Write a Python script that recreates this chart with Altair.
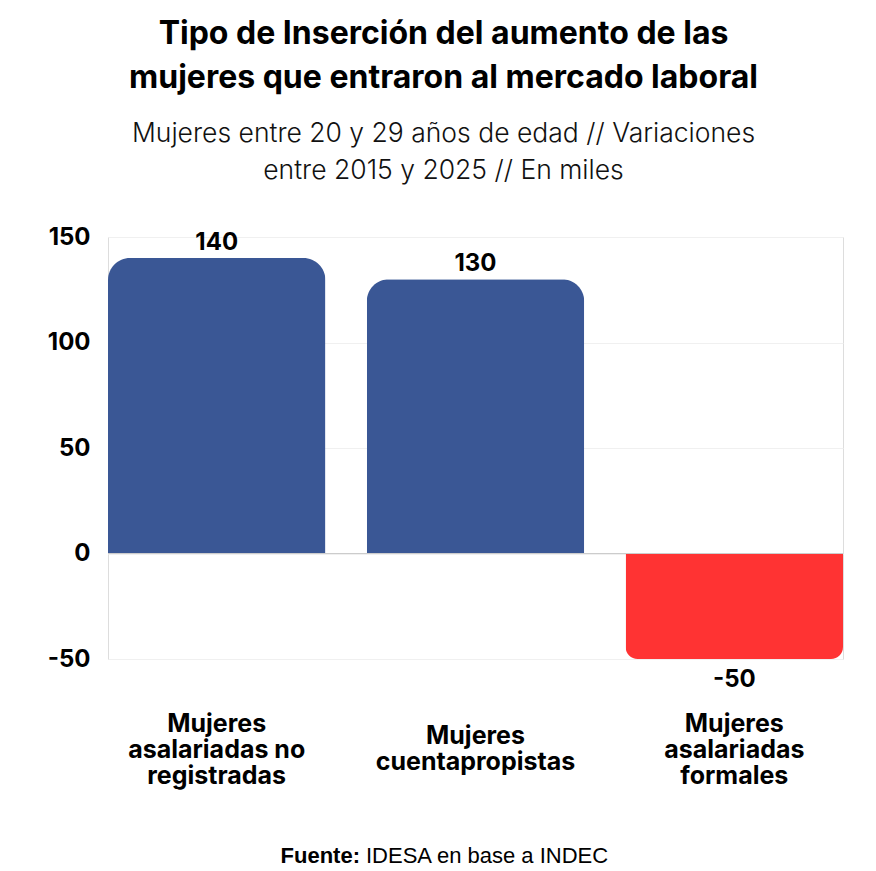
import altair as alt
import pandas as pd

# Categories (multi-line labels split on "|") and their change, in thousands
categorias = [
    "Mujeres|asalariadas no|registradas",
    "Mujeres|cuentapropistas",
    "Mujeres|asalariadas|formales",
]
variacion = [140, 130, -50]

y_ticks = [-50, 0, 50, 100, 150]

titulo = ["Tipo de Inserción del aumento de las", "mujeres que entraron al mercado laboral"]
subtitulo = ["Mujeres entre 20 y 29 años de edad // Variaciones", "entre 2015 y 2025 // En miles"]
fuente_negrita = "Fuente:"
fuente_texto = "IDESA en base a INDEC"

AZUL = "#3a5795"
ROJO = "#ff3333"
FONT = "Inter"

df = pd.DataFrame({"cat": categorias, "val": variacion})

x_enc = alt.X(
    "cat:N",
    sort=None,
    title=None,
    scale=alt.Scale(paddingInner=0.16, paddingOuter=0),
    axis=alt.Axis(
        labelExpr="split(datum.label, '|')",
        labelAngle=0,
        labelFont=FONT,
        labelFontSize=25,
        labelFontWeight="bold",
        labelColor="#000",
        labelLineHeight=26,
        # two-line labels sit half a line lower so every block is centred
        labelBaseline={
            "condition": {"test": "length(split(datum.label, '|')) == 2", "value": "top"},
            "value": "middle",
        },
        labelPadding=64,
        labelLimit=400,
        ticks=False,
        domain=False,
        grid=False,
    ),
)
y_enc = alt.Y(
    "val:Q",
    title=None,
    scale=alt.Scale(domain=[-50, 150], nice=False),
    axis=alt.Axis(
        values=y_ticks,
        labelExpr="'' + datum.value",
        labelFont=FONT,
        labelFontSize=24,
        labelFontWeight="bold",
        labelColor="#000",
        labelPadding=18,
        ticks=False,
        domain=False,
        gridColor="#f0f0f0",
        gridWidth=1,
    ),
)

base = alt.Chart(df).transform_calculate(txt="'' + datum.val")

bar_pos = base.transform_filter("datum.val >= 0").mark_bar(
    color=AZUL, cornerRadiusTopLeft=22, cornerRadiusTopRight=22
).encode(x=x_enc, y=y_enc)

bar_neg = base.transform_filter("datum.val < 0").mark_bar(
    color=ROJO, cornerRadiusBottomLeft=12, cornerRadiusBottomRight=12
).encode(x=x_enc, y=y_enc)

zero = alt.Chart(pd.DataFrame({"z": [0]})).mark_rule(color="#cccccc", strokeWidth=1).encode(
    y="z:Q"
)

lbl_pos = base.transform_filter("datum.val >= 0").mark_text(
    font=FONT, fontSize=24, fontWeight="bold", color="#000", baseline="alphabetic", dy=-8
).encode(x=x_enc, y=y_enc, text="txt:N")

lbl_neg = base.transform_filter("datum.val < 0").mark_text(
    font=FONT, fontSize=24, fontWeight="bold", color="#000", baseline="alphabetic", dy=28
).encode(x=x_enc, y=y_enc, text="txt:N")

pie = pd.DataFrame({"a": [fuente_negrita], "b": [fuente_texto]})
src_bold = alt.Chart(pie).mark_text(
    font="Liberation Sans", fontSize=22, fontWeight="bold", color="#000",
    align="right", baseline="middle"
).encode(x=alt.value(252), y=alt.value(619), text="a:N")
src_reg = alt.Chart(pie).mark_text(
    font="Liberation Sans", fontSize=22, color="#000",
    align="left", baseline="middle"
).encode(x=alt.value(258), y=alt.value(619), text="b:N")

chart = (
    alt.layer(bar_pos, bar_neg, zero, lbl_pos, lbl_neg, src_bold, src_reg)
    .properties(
        width=735,
        height=422,
        autosize=alt.AutoSizeParams(type="none"),
        padding={"left": 108, "top": 237, "right": 33, "bottom": 212},
        title=alt.TitleParams(
            text=titulo,
            subtitle=subtitulo,
            anchor="middle",
            dx=-32,
            font=FONT,
            fontSize=32,
            fontWeight="bold",
            color="#000",
            lineHeight=44,
            subtitleFont=FONT,
            subtitleFontSize=26.5,
            subtitleFontWeight=300,
            subtitleColor="#111",
            subtitleLineHeight=37,
            subtitlePadding=26,
            offset=40,
        ),
    )
    .configure_view(stroke=None)
    .configure(background="white")
)

chart.save("out.html", embed_options={"renderer": "svg", "actions": False})
